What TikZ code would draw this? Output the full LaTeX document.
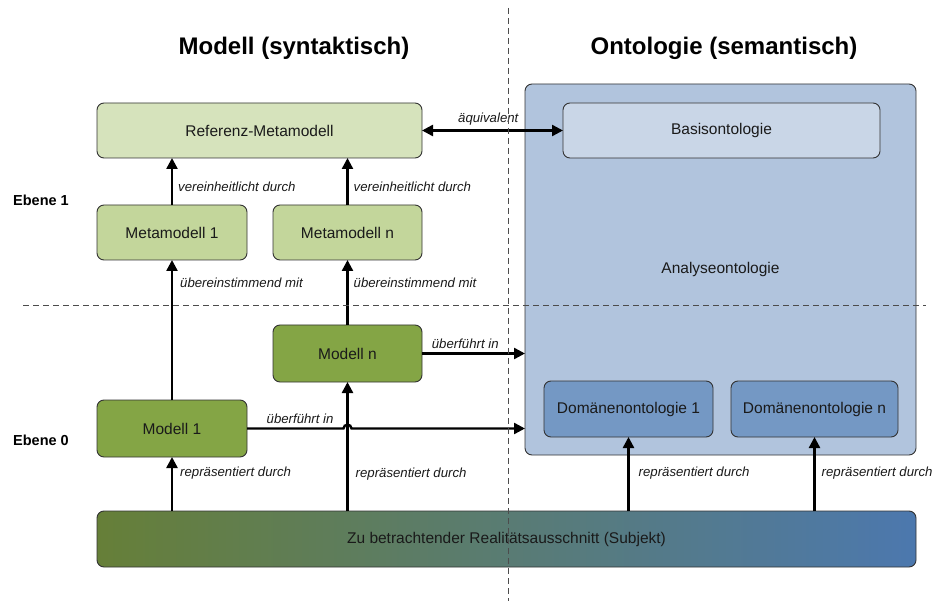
\documentclass[tikz,border=0pt]{standalone}
\usepackage{fontspec}
\setmainfont{Liberation Sans}
\usetikzlibrary{arrows.meta}
\definecolor{refc}{HTML}{D6E3BC}
\definecolor{metac}{HTML}{C3D69B}
\definecolor{modc}{HTML}{84A545}
\definecolor{anac}{HTML}{B1C4DD}
\definecolor{basc}{HTML}{C9D6E7}
\definecolor{domc}{HTML}{7498C4}
\definecolor{subl}{HTML}{667F38}
\definecolor{subr}{HTML}{4C78AE}
\definecolor{edgec}{HTML}{333333}
\definecolor{txtc}{HTML}{1A1A1A}
\begin{document}
\begin{tikzpicture}[x=1pt,y=-1pt,
  box/.style={draw=edgec, line width=0.9pt, rounded corners=7pt, text=txtc,
    font=\fontsize{15.5}{18}\selectfont, inner sep=0pt, outer sep=0pt},
  arr/.style={line width=2.4pt, -{Triangle[length=11pt,width=11pt]}},
  darr/.style={line width=2.4pt, {Triangle[length=11pt,width=11pt]}-{Triangle[length=11pt,width=11pt]}},
  lbl/.style={font=\fontsize{13.2}{15}\selectfont\itshape, text=txtc, inner sep=1pt},
  ttl/.style={font=\fontsize{24}{28}\selectfont\bfseries, text=black},
  lvl/.style={font=\fontsize{14.5}{17}\selectfont\bfseries, text=black, anchor=west, inner sep=0pt},
  sep/.style={draw=black!70, line width=1pt, dash pattern=on 6pt off 4pt}]
\useasboundingbox (0,0) rectangle (934,601);

% titles and levels
\node[ttl] (t1) at (294,48) {Modell (syntaktisch)};
\node[ttl] (t2) at (724,48) {Ontologie (semantisch)};
\node[lvl] (e1) at (13,200) {Ebene 1};
\node[lvl] (e0) at (13,440) {Ebene 0};

% ontology side
\node[box, fill=anac, minimum width=391pt, minimum height=371pt] (ana) at (720.5,269.5) {Analyseontologie};
\node[box, fill=basc, minimum width=317pt, minimum height=55pt] (bas) at (721.5,130.5) {Basisontologie};
\node[box, fill=domc, minimum width=169pt, minimum height=56pt] (d1) at (628.5,409) {Domänenontologie 1};
\node[box, fill=domc, minimum width=167pt, minimum height=56pt] (dn) at (814.5,409) {Domänenontologie n};

% model side
\node[box, fill=refc, minimum width=325pt, minimum height=55pt] (ref) at (259.5,130.5) {Referenz-Metamodell};
\node[box, fill=metac, minimum width=150pt, minimum height=55pt] (mm1) at (172,232.5) {Metamodell 1};
\node[box, fill=metac, minimum width=149pt, minimum height=55pt] (mmn) at (347.5,232.5) {Metamodell n};
\node[box, fill=modc, minimum width=149pt, minimum height=57pt] (mn) at (347.5,353.5) {Modell n};
\node[box, fill=modc, minimum width=150pt, minimum height=57pt] (m1) at (172,428.5) {Modell 1};

% subject
\node[box, left color=subl, right color=subr, minimum width=819pt, minimum height=56pt] (subj) at (506.5,539) {Zu betrachtender Realitätsausschnitt (Subjekt)};

% connectors
\draw[arr] (mm1.north) -- node[lbl, pos=0.38, anchor=west, xshift=4pt] {vereinheitlicht durch} (mm1.north |- ref.south);
\draw[arr] (mmn.north) -- node[lbl, pos=0.38, anchor=west, xshift=4pt] {vereinheitlicht durch} (mmn.north |- ref.south);
\draw[arr] (m1.north) -- node[lbl, pos=0.836, anchor=west, xshift=6pt] {übereinstimmend mit} (mm1.south);
\draw[arr] (mn.north) -- node[lbl, pos=0.646, anchor=west, xshift=4pt] {übereinstimmend mit} (mmn.south);
\draw[darr] (ref.east) -- node[lbl, pos=0.47, anchor=south, yshift=3pt] {äquivalent} (bas.west);
\draw[arr] (mn.east) -- node[lbl, pos=0.42, anchor=south, yshift=3pt] {überführt in} (ana.west |- mn.east);

\draw[arr] (subj.north -| m1.south) -- node[lbl, pos=0.70, anchor=west, xshift=6pt] {repräsentiert durch} (m1.south);
\draw[arr] (subj.north -| mn.south) -- node[lbl, pos=0.29, anchor=west, xshift=6pt] {repräsentiert durch} (mn.south);
\draw[arr] (subj.north -| d1.south) -- node[lbl, pos=0.51, anchor=west, xshift=8pt] {repräsentiert durch} (d1.south);
\draw[arr] (subj.north -| dn.south) -- node[lbl, pos=0.51, anchor=west, xshift=5pt] {repräsentiert durch} (dn.south);

\coordinate (hop) at (mn.south |- m1.east);
\draw[arr] (m1.east) -- node[lbl, pos=0.55, anchor=south, yshift=3pt] {überführt in} ([xshift=-4pt]hop)
  .. controls ([xshift=-4pt,yshift=5pt]hop) and ([xshift=4pt,yshift=5pt]hop) .. ([xshift=4pt]hop)
  -- (ana.west |- m1.east);

% separators
\coordinate (vs) at (508,8);
\coordinate (ve) at (508,601);
\coordinate (hs) at (23,306);
\coordinate (he) at (926,306);
\draw[sep] (vs) -- (ve);
\draw[sep] (hs) -- (he);
\end{tikzpicture}
\end{document}
